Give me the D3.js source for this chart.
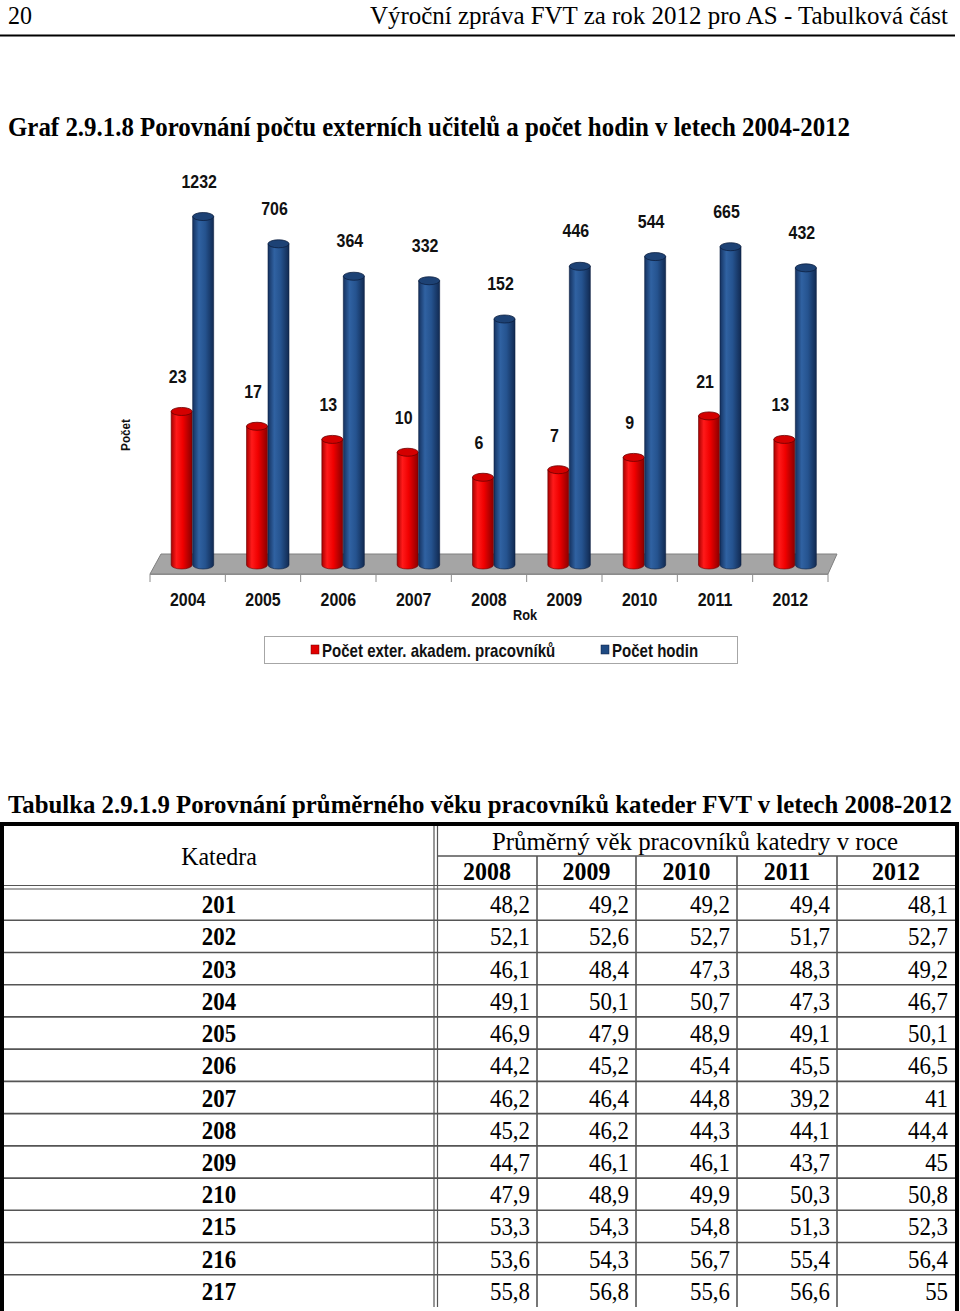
<!DOCTYPE html>
<html><head><meta charset="utf-8">
<script src="https://cdn.jsdelivr.net/npm/d3@7"></script>
<style>
html,body{margin:0;padding:0;background:#fff;}
svg{display:block;}
</style></head>
<body>
<svg id="page" width="960" height="1311"></svg>
<script>
// ---------- chart data ----------
const years = ["2004","2005","2006","2007","2008","2009","2010","2011","2012"];
const teachers = [23,17,13,10,6,7,9,21,13];
const hours = [1232,706,364,332,152,446,544,665,432];
const seriesNames = ["Počet  exter. akadem. pracovníků","Počet hodin"];

// ---------- table data ----------
const katedry = ["201","202","203","204","205","206","207","208","209","210","215","216","217"];
const tableYears = ["2008","2009","2010","2011","2012"];
const age2008 = [48.2,52.1,46.1,49.1,46.9,44.2,46.2,45.2,44.7,47.9,53.3,53.6,55.8];
const age2009 = [49.2,52.6,48.4,50.1,47.9,45.2,46.4,46.2,46.1,48.9,54.3,54.3,56.8];
const age2010 = [49.2,52.7,47.3,50.7,48.9,45.4,44.8,44.3,46.1,49.9,54.8,56.7,55.6];
const age2011 = [49.4,51.7,48.3,47.3,49.1,45.5,39.2,44.1,43.7,50.3,51.3,55.4,56.6];
const age2012 = [48.1,52.7,49.2,46.7,50.1,46.5,41,44.4,45,50.8,52.3,56.4,55];

const svg = d3.select("#page");
const serif = "'Liberation Serif','Times New Roman',Times,serif";
const sans = "'Liberation Sans',Arial,sans-serif";

// serif text helper: horizontally condensed like the source
function sText(xp, yp, txt, size, opts){
  opts = opts || {};
  const t = svg.append("text").attr("transform",`translate(${xp},${yp}) scale(${opts.sx||0.88},1)`)
    .attr("text-anchor",opts.anchor||"start").attr("font-family",serif).attr("font-size",size)
    .attr("fill","#000").text(txt);
  if(opts.bold) t.attr("font-weight","bold");
  return t;
}
function fitText(xp, yp, txt, size, len, bold, anchor){
  const t = svg.append("text").attr("x",xp).attr("y",yp).attr("font-family",serif).attr("font-size",size)
    .attr("textLength",len).attr("lengthAdjust","spacingAndGlyphs").attr("text-anchor",anchor||"start").text(txt);
  if(bold) t.attr("font-weight","bold");
  return t;
}

// ---------- page header ----------
fitText(8, 23.5, "20", 25, 24);
fitText(948, 23.5, "Výroční zpráva FVT za rok 2012 pro AS - Tabulková část", 25, 578, false, "end");
svg.append("line").attr("x1",0).attr("x2",955).attr("y1",35.5).attr("y2",35.5).attr("stroke","#000").attr("stroke-width",2);

fitText(8, 136, "Graf 2.9.1.8 Porovnání počtu externích učitelů a počet hodin v letech 2004-2012", 27, 842, true);

// ---------- chart ----------
const defs = svg.append("defs");
function grad(id, stops){
  const g = defs.append("linearGradient").attr("id",id).attr("x1","0%").attr("x2","100%").attr("y1","0%").attr("y2","0%");
  stops.forEach(s=>g.append("stop").attr("offset",s[0]).attr("stop-color",s[1]));
}
grad("gRed",[["0%","#a80000"],["25%","#ff1a1a"],["55%","#f00000"],["100%","#8a0000"]]);
grad("gBlue",[["0%","#153260"],["30%","#3062a2"],["60%","#25538f"],["100%","#112a52"]]);

const x = d3.scaleBand().domain(years).range([150,828]).padding(0);
const y = d3.scaleLog().domain([1,10000]).range([565,114]);
const barW = 21, ry = 4;

// floor
const floorTop = 554, floorBot = 574;
svg.append("path")
  .attr("d",`M161,${floorTop} L837,${floorTop} L828,${floorBot} L150,${floorBot} Z`)
  .attr("fill","#a5a5a5").attr("stroke","#808080").attr("stroke-width",1);
svg.append("line").attr("x1",150).attr("x2",828).attr("y1",floorBot+0.5).attr("y2",floorBot+0.5).attr("stroke","#8c8c8c");
const tickXs = years.map(d=>x(d)).concat([x.range()[1]]);
svg.selectAll(".tick").data(tickXs).enter().append("line")
  .attr("x1",d=>d).attr("x2",d=>d).attr("y1",floorBot).attr("y2",floorBot+8).attr("stroke","#8c8c8c");

function cylinder(cx0, v, fillId, topFill, edge){
  const top = y(v), base = y(1);
  const g = svg.append("g");
  g.append("path")
    .attr("d",`M${cx0},${top} L${cx0},${base} A${barW/2},${ry} 0 0 0 ${cx0+barW},${base} L${cx0+barW},${top} Z`)
    .attr("fill",`url(#${fillId})`).attr("stroke",edge).attr("stroke-width",0.6);
  g.append("ellipse").attr("cx",cx0+barW/2).attr("cy",top).attr("rx",barW/2).attr("ry",ry)
    .attr("fill",topFill).attr("stroke",edge).attr("stroke-width",0.8);
}
function condText(xp, yp, txt, size, sx, anchor){
  return svg.append("text").attr("transform",`translate(${xp},${yp}) scale(${sx},1)`)
    .attr("text-anchor",anchor||"middle").attr("font-family",sans).attr("font-weight","bold")
    .attr("font-size",size).attr("fill","#111").text(txt);
}

years.forEach((yr,i)=>{
  const c = x(yr) + x.bandwidth()/2;
  const rx0 = c - 16.5, bx0 = c + 5;
  cylinder(rx0, teachers[i], "gRed", "#d40000", "#6a0000");
  cylinder(bx0, hours[i], "gBlue", "#1d4275", "#0c1f40");
  condText(rx0 + barW/2 - 4, y(teachers[i]) - 28, String(teachers[i]), 19, 0.84);
  condText(bx0 + barW/2 - 4, y(hours[i]) - 29, String(hours[i]), 19, 0.84);
  condText(c, 606, yr, 19, 0.84);
});
condText(525, 620, "Rok", 15, 0.85);
svg.append("text").attr("transform","translate(130,435) rotate(-90) scale(0.9,1)")
  .attr("text-anchor","middle").attr("font-family",sans).attr("font-weight","bold").attr("font-size",13)
  .attr("fill","#111").text("Počet");

// legend
svg.append("rect").attr("x",264.5).attr("y",636.5).attr("width",473).attr("height",27)
  .attr("fill","#fff").attr("stroke","#a6a6a6");
const legItems = [{x:311, name:seriesNames[0], c:"#e00000", s:"#700000"},{x:601, name:seriesNames[1], c:"#1f4a82", s:"#0c1f40"}];
legItems.forEach(l=>{
  svg.append("rect").attr("x",l.x).attr("y",645).attr("width",8).attr("height",9).attr("fill",l.c).attr("stroke",l.s).attr("stroke-width",0.5);
  condText(l.x+11, 656.5, l.name, 17.5, 0.86, "start");
});

// ---------- table ----------
fitText(8, 813, "Tabulka 2.9.1.9 Porovnání průměrného věku pracovníků kateder FVT v letech 2008-2012", 25, 944, true);

const colEdges = [437,537,636,737,837,955];
const rowTop = 888, rowBot = 1307;
const rowH = (rowBot-rowTop)/katedry.length;
const yRow = d3.scaleBand().domain(katedry).range([rowTop,rowBot]);
const ages = [age2008,age2009,age2010,age2011,age2012];
const gridC = "#555";

// header lines
svg.append("line").attr("x1",437).attr("x2",955).attr("y1",856).attr("y2",856).attr("stroke",gridC).attr("stroke-width",1.5);
svg.append("line").attr("x1",2).attr("x2",955).attr("y1",885.5).attr("y2",885.5).attr("stroke",gridC).attr("stroke-width",1.2);
svg.append("line").attr("x1",2).attr("x2",955).attr("y1",889).attr("y2",889).attr("stroke",gridC).attr("stroke-width",1.2);
// row lines
katedry.slice(1).forEach(k=>{
  svg.append("line").attr("x1",2).attr("x2",955).attr("y1",yRow(k)).attr("y2",yRow(k)).attr("stroke",gridC).attr("stroke-width",1.6);
});
// vertical lines
svg.append("line").attr("x1",434).attr("x2",434).attr("y1",824).attr("y2",rowBot).attr("stroke",gridC).attr("stroke-width",1.2);
svg.append("line").attr("x1",437.5).attr("x2",437.5).attr("y1",824).attr("y2",rowBot).attr("stroke",gridC).attr("stroke-width",1.2);
[537,636,737,837].forEach(xx=>{
  svg.append("line").attr("x1",xx).attr("x2",xx).attr("y1",856).attr("y2",rowBot).attr("stroke",gridC).attr("stroke-width",1.6);
});
// outer border
svg.append("rect").attr("x",2).attr("y",824).attr("width",955).attr("height",1284).attr("fill","none")
  .attr("stroke","#000").attr("stroke-width",4);

// header text
sText(219, 865, "Katedra", 26, {anchor:"middle", sx:0.92});
fitText(695, 850, "Průměrný věk pracovníků katedry v roce", 26, 406, false, "middle");
tableYears.forEach((yr,j)=>{
  const l = colEdges[j], r = colEdges[j+1];
  sText((l+r)/2, 880, yr, 26, {anchor:"middle", bold:true, sx:0.92});
});
// rows
katedry.forEach((k,i)=>{
  const cy = yRow(k) + rowH/2 + 9;
  sText(219, cy, k, 26, {anchor:"middle", bold:true, sx:0.88});
  tableYears.forEach((yr,j)=>{
    sText(colEdges[j+1]-7, cy, String(ages[j][i]).replace(".",","), 26, {anchor:"end", sx:0.88});
  });
});
</script>
</body></html>
